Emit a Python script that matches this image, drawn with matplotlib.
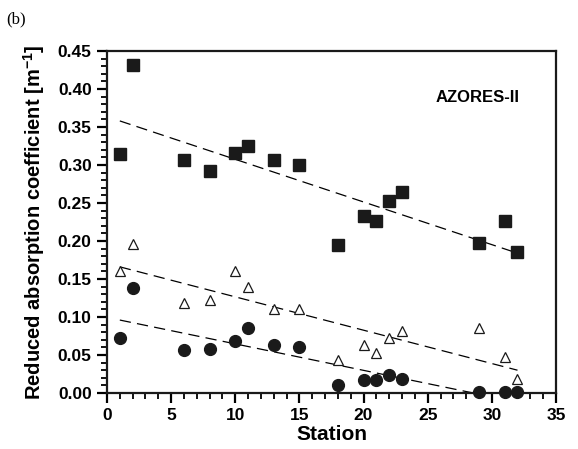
import numpy as np
import matplotlib
matplotlib.use('Agg')
import matplotlib.pyplot as plt
from matplotlib.ticker import MultipleLocator

stations = [1, 2, 6, 8, 10, 11, 13, 15, 18, 20, 21, 22, 23, 29, 31, 32]
squares = [0.315, 0.432, 0.307, 0.292, 0.316, 0.325, 0.306, 0.300,
           0.195, 0.233, 0.226, 0.252, 0.264, 0.197, 0.226, 0.185]
triangles = [0.161, 0.196, 0.118, 0.122, 0.161, 0.140, 0.111, 0.111,
             0.043, 0.063, 0.052, 0.073, 0.081, 0.086, 0.047, 0.019]
circles = [0.072, 0.138, 0.056, 0.058, 0.069, 0.085, 0.063, 0.061,
           0.011, 0.017, 0.017, 0.024, 0.018, 0.001, 0.001, 0.001]

# regression lines, end points
fit_x = [1, 32]
fit_squares = [0.358, 0.184]
fit_triangles = [0.166, 0.030]
fit_circles = [0.096, -0.012]

plt.rcParams['font.family'] = ['Liberation Sans', 'DejaVu Sans']
plt.rcParams['mathtext.fontset'] = 'custom'
plt.rcParams['mathtext.rm'] = 'Liberation Sans:bold'
plt.rcParams['mathtext.bf'] = 'Liberation Sans:bold'
plt.rcParams['mathtext.default'] = 'bf'

fig = plt.figure(figsize=(5.78, 4.49), dpi=100)
ax = fig.add_axes([0.1851, 0.1247, 0.7768, 0.7617])

for fy in (fit_squares, fit_triangles, fit_circles):
    ax.plot(fit_x, fy, color='black', lw=0.9, dashes=(9, 5))

ax.plot(stations, squares, 's', ms=8.5, color='#1a1a1a', mec='#1a1a1a', clip_on=False)
ax.plot(stations, triangles, '^', ms=7.5, mfc='white', mec='#1a1a1a', mew=0.9, clip_on=False)
ax.plot(stations, circles, 'o', ms=8.5, color='#1a1a1a', mec='#1a1a1a', clip_on=False)

ax.set_xlim(0, 35)
ax.set_ylim(0, 0.45)
ax.xaxis.set_major_locator(MultipleLocator(5))
ax.xaxis.set_minor_locator(MultipleLocator(1))
ax.yaxis.set_major_locator(MultipleLocator(0.05))
ax.yaxis.set_minor_locator(MultipleLocator(0.01))
ax.yaxis.set_major_formatter(plt.FormatStrFormatter('%.2f'))

for s in ax.spines.values():
    s.set_linewidth(1.6)
    s.set_color('#1a1a1a')
ax.tick_params(which='major', direction='out', length=7, width=1.6, labelsize=12.5, pad=4)
ax.tick_params(which='minor', direction='out', length=4, width=1.3)
for lab in ax.get_xticklabels() + ax.get_yticklabels():
    lab.set_fontweight('bold')

ax.set_xlabel('Station', fontsize=15, fontweight='bold', labelpad=1)
ax.set_ylabel('Reduced absorption coefficient [m$^{-1}$]', fontsize=14.5,
              fontweight='bold', labelpad=8)

ax.text(0.92, 0.865, 'AZORES-II', transform=ax.transAxes, ha='right', va='center',
        fontsize=12, fontweight='bold')

fig.text(0.01, 0.975, '(b)', family=['Liberation Serif', 'DejaVu Serif'], fontsize=12,
         ha='left', va='top')

fig.savefig('out.png', dpi=100)
